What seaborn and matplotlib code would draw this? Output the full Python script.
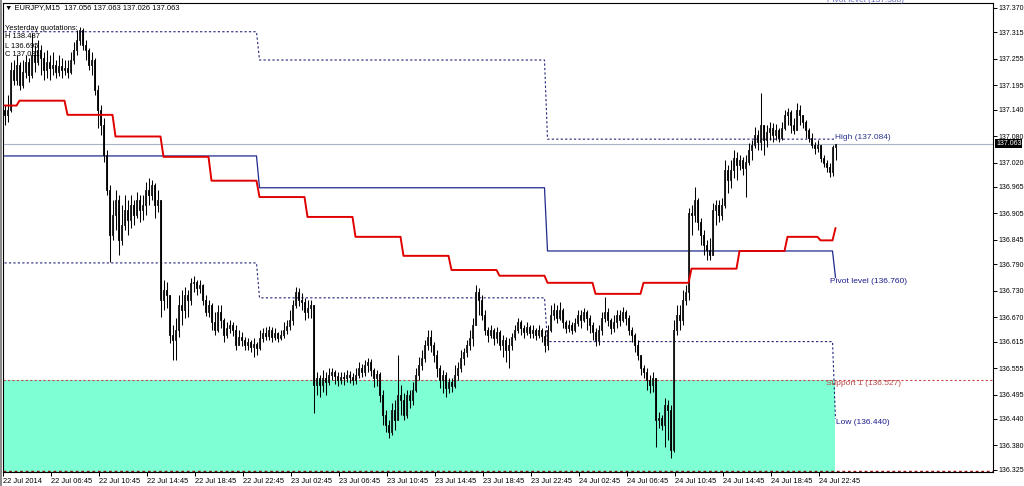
import numpy as np
import pandas as pd
import matplotlib
matplotlib.use('Agg')
import matplotlib.pyplot as plt
import matplotlib.patches as mpatches
import seaborn as sns

sns.set_style('white')
plt.rcParams['font.family'] = ['Liberation Sans', 'DejaVu Sans']

# EURJPY M15, 22 Jul 02:45 -> 25 Jul 00:00 (one value per bar)
first_open = 137.140
closes = [
    137.128, 137.139, 137.230, 137.207, 137.241, 137.196, 137.225, 137.248, 137.218, 137.264,
    137.248, 137.275, 137.257, 137.230, 137.248, 137.234, 137.241, 137.225, 137.239, 137.230,
    137.234, 137.225, 137.252, 137.275, 137.298, 137.320, 137.286, 137.275, 137.241, 137.252,
    137.184, 137.139, 137.105, 137.038, 136.958, 136.856, 136.902, 136.936, 136.845, 136.879,
    136.913, 136.890, 136.925, 136.902, 136.936, 136.913, 136.925, 136.958, 136.947, 136.970,
    136.925, 136.936, 136.710, 136.732, 136.721, 136.630, 136.619, 136.642, 136.698, 136.687,
    136.721, 136.710, 136.748, 136.750, 136.737, 136.743, 136.710, 136.683, 136.698, 136.660,
    136.642, 136.683, 136.664, 136.630, 136.646, 136.653, 136.642, 136.608, 136.626, 136.619,
    136.608, 136.615, 136.603, 136.610, 136.601, 136.624, 136.635, 136.628, 136.642, 136.626,
    136.635, 136.624, 136.630, 136.642, 136.651, 136.664, 136.698, 136.728, 136.710, 136.705,
    136.683, 136.692, 136.698, 136.517, 136.533, 136.517, 136.533, 136.524, 136.540, 136.547,
    136.538, 136.529, 136.535, 136.533, 136.540, 136.535, 136.529, 136.540, 136.556, 136.547,
    136.562, 136.569, 136.551, 136.533, 136.542, 136.495, 136.449, 136.427, 136.411, 136.461,
    136.438, 136.495, 136.483, 136.449, 136.495, 136.483, 136.506, 136.540, 136.562, 136.578,
    136.608, 136.626, 136.608, 136.585, 136.556, 136.529, 136.540, 136.511, 136.524, 136.515,
    136.540, 136.556, 136.578, 136.592, 136.608, 136.624, 136.653, 136.728, 136.710, 136.676,
    136.642, 136.630, 136.642, 136.624, 136.637, 136.608, 136.619, 136.596, 136.608, 136.626,
    136.642, 136.660, 136.646, 136.637, 136.649, 136.635, 136.642, 136.630, 136.642, 136.628,
    136.608, 136.642, 136.676, 136.687, 136.669, 136.687, 136.660, 136.646, 136.653, 136.642,
    136.658, 136.676, 136.664, 136.683, 136.669, 136.653, 136.637, 136.619, 136.642, 136.669,
    136.683, 136.664, 136.646, 136.660, 136.676, 136.664, 136.683, 136.669, 136.642, 136.630,
    136.608, 136.585, 136.556, 136.547, 136.529, 136.517, 136.533, 136.438, 136.443, 136.427,
    136.472, 136.461, 136.370, 136.642, 136.676, 136.664, 136.710, 136.728, 136.906, 136.902,
    136.936, 136.886, 136.856, 136.834, 136.823, 136.811, 136.913, 136.925, 136.902, 136.925,
    137.004, 136.981, 137.004, 137.031, 137.015, 137.026, 137.008, 137.022, 137.049, 137.060,
    137.083, 137.067, 137.105, 137.071, 137.089, 137.099, 137.083, 137.094, 137.076, 137.099,
    137.128, 137.135, 137.105, 137.094, 137.139, 137.128, 137.112, 137.094, 137.076, 137.060,
    137.053, 137.060, 137.031, 137.019, 137.010, 136.999, 137.056, 137.063,
]
highs = [
    137.151, 137.173, 137.248, 137.252, 137.264, 137.248, 137.252, 137.264, 137.257, 137.313,
    137.286, 137.298, 137.286, 137.270, 137.275, 137.264, 137.270, 137.252, 137.264, 137.257,
    137.252, 137.252, 137.270, 137.293, 137.320, 137.327, 137.325, 137.298, 137.279, 137.270,
    137.257, 137.196, 137.151, 137.121, 137.049, 136.970, 136.936, 136.958, 136.947, 136.925,
    136.947, 136.936, 136.947, 136.936, 136.954, 136.947, 136.947, 136.976, 136.985, 136.981,
    136.974, 136.958, 136.936, 136.755, 136.750, 136.721, 136.653, 136.669, 136.721, 136.732,
    136.739, 136.732, 136.759, 136.764, 136.755, 136.755, 136.746, 136.721, 136.710, 136.703,
    136.683, 136.698, 136.698, 136.669, 136.660, 136.664, 136.660, 136.653, 136.642, 136.637,
    136.626, 136.624, 136.619, 136.624, 136.615, 136.642, 136.646, 136.649, 136.651, 136.649,
    136.646, 136.637, 136.642, 136.660, 136.664, 136.687, 136.710, 136.739, 136.737, 136.725,
    136.714, 136.710, 136.710, 136.698, 136.547, 136.540, 136.551, 136.547, 136.556, 136.556,
    136.551, 136.547, 136.547, 136.547, 136.551, 136.549, 136.544, 136.556, 136.569, 136.565,
    136.574, 136.578, 136.576, 136.556, 136.551, 136.547, 136.506, 136.461, 136.438, 136.477,
    136.483, 136.585, 136.517, 136.499, 136.506, 136.506, 136.524, 136.556, 136.580, 136.596,
    136.619, 136.642, 136.642, 136.615, 136.596, 136.562, 136.551, 136.547, 136.533, 136.533,
    136.562, 136.569, 136.596, 136.601, 136.619, 136.642, 136.669, 136.743, 136.737, 136.721,
    136.687, 136.649, 136.653, 136.646, 136.649, 136.642, 136.630, 136.626, 136.624, 136.635,
    136.653, 136.669, 136.664, 136.653, 136.660, 136.653, 136.653, 136.646, 136.653, 136.646,
    136.642, 136.653, 136.698, 136.703, 136.698, 136.705, 136.692, 136.664, 136.664, 136.660,
    136.669, 136.687, 136.687, 136.692, 136.687, 136.676, 136.660, 136.646, 136.653, 136.683,
    136.716, 136.692, 136.669, 136.676, 136.687, 136.687, 136.694, 136.687, 136.676, 136.649,
    136.635, 136.619, 136.585, 136.562, 136.556, 136.540, 136.547, 136.533, 136.456, 136.449,
    136.488, 136.483, 136.472, 136.664, 136.698, 136.698, 136.732, 136.743, 136.918, 136.925,
    136.965, 136.940, 136.895, 136.868, 136.845, 136.850, 136.929, 136.936, 136.936, 136.940,
    137.026, 137.015, 137.026, 137.049, 137.044, 137.038, 137.033, 137.038, 137.065, 137.071,
    137.101, 137.094, 137.178, 137.105, 137.105, 137.112, 137.110, 137.108, 137.099, 137.112,
    137.139, 137.144, 137.139, 137.121, 137.155, 137.151, 137.128, 137.117, 137.099, 137.087,
    137.067, 137.071, 137.060, 137.038, 137.026, 137.019, 137.060, 137.063,
]
lows = [
    137.105, 137.112, 137.135, 137.196, 137.196, 137.184, 137.189, 137.212, 137.203, 137.212,
    137.225, 137.241, 137.218, 137.207, 137.212, 137.207, 137.218, 137.212, 137.216, 137.212,
    137.218, 137.212, 137.221, 137.243, 137.264, 137.286, 137.275, 137.252, 137.230, 137.218,
    137.173, 137.099, 137.083, 137.022, 136.947, 136.795, 136.845, 136.868, 136.811, 136.834,
    136.868, 136.856, 136.872, 136.879, 136.895, 136.886, 136.890, 136.902, 136.925, 136.936,
    136.895, 136.909, 136.671, 136.687, 136.692, 136.612, 136.574, 136.574, 136.626, 136.653,
    136.669, 136.671, 136.698, 136.728, 136.721, 136.725, 136.698, 136.674, 136.671, 136.642,
    136.630, 136.637, 136.646, 136.615, 136.624, 136.635, 136.628, 136.596, 136.608, 136.605,
    136.596, 136.596, 136.592, 136.580, 136.585, 136.596, 136.615, 136.619, 136.619, 136.615,
    136.619, 136.615, 136.619, 136.624, 136.633, 136.642, 136.653, 136.692, 136.696, 136.687,
    136.664, 136.669, 136.669, 136.454, 136.495, 136.490, 136.501, 136.495, 136.517, 136.529,
    136.520, 136.515, 136.520, 136.517, 136.524, 136.522, 136.517, 136.520, 136.533, 136.535,
    136.538, 136.547, 136.538, 136.513, 136.515, 136.479, 136.427, 136.411, 136.397, 136.404,
    136.415, 136.438, 136.449, 136.438, 136.443, 136.465, 136.472, 136.501, 136.529, 136.551,
    136.569, 136.596, 136.592, 136.569, 136.535, 136.511, 136.499, 136.490, 136.499, 136.501,
    136.511, 136.529, 136.547, 136.562, 136.580, 136.596, 136.605, 136.653, 136.676, 136.664,
    136.630, 136.615, 136.624, 136.608, 136.612, 136.596, 136.580, 136.569, 136.556, 136.596,
    136.619, 136.635, 136.630, 136.624, 136.630, 136.624, 136.624, 136.619, 136.624, 136.615,
    136.592, 136.596, 136.637, 136.664, 136.658, 136.664, 136.646, 136.635, 136.637, 136.633,
    136.637, 136.651, 136.646, 136.660, 136.642, 136.635, 136.619, 136.605, 136.608, 136.630,
    136.660, 136.651, 136.633, 136.637, 136.646, 136.651, 136.660, 136.653, 136.630, 136.615,
    136.592, 136.574, 136.540, 136.533, 136.506, 136.499, 136.501, 136.377, 136.420, 136.415,
    136.377, 136.393, 136.352, 136.365, 136.630, 136.642, 136.653, 136.698, 136.710, 136.856,
    136.886, 136.868, 136.834, 136.811, 136.800, 136.800, 136.811, 136.879, 136.886, 136.890,
    136.918, 136.952, 136.963, 136.985, 136.981, 137.004, 136.992, 136.943, 137.015, 137.026,
    137.053, 137.049, 137.049, 137.038, 137.056, 137.071, 137.067, 137.071, 137.067, 137.071,
    137.094, 137.105, 137.087, 137.085, 137.094, 137.105, 137.099, 137.076, 137.067, 137.053,
    137.040, 137.044, 137.022, 137.010, 136.999, 136.988, 136.990, 137.026,
]

# 4-hour step line (red)
red_starts = [0, 5, 21, 37, 53, 69, 85, 101, 117, 133, 149, 165, 181, 197, 213, 229, 245, 261, 272, 277]
red_levels = [137.149, 137.160, 137.128, 137.079, 137.033, 136.979, 136.942, 136.897, 136.852, 136.809,
              136.777, 136.764, 136.748, 136.723, 136.748, 136.780, 136.820, 136.852, 136.844, 136.872]

# daily levels
day_starts = [0, 85, 181, 277]
pivot_levels = [137.035, 136.963, 136.820, 136.760]
day_high = [137.316, 137.252, 137.073, 137.073]
day_low = [136.793, 136.714, 136.615, 136.440]
support1 = 136.527
support2 = 136.322
last_price = 137.063

xtick_labels = ['22 Jul 2014', '22 Jul 06:45', '22 Jul 10:45', '22 Jul 14:45', '22 Jul 18:45',
                '22 Jul 22:45', '23 Jul 02:45', '23 Jul 06:45', '23 Jul 10:45', '23 Jul 14:45',
                '23 Jul 18:45', '23 Jul 22:45', '24 Jul 02:45', '24 Jul 06:45', '24 Jul 10:45',
                '24 Jul 14:45', '24 Jul 18:45', '24 Jul 22:45']
ytick_labels = ['137.370', '137.315', '137.255', '137.195', '137.140', '137.080', '137.020',
                '136.965', '136.905', '136.845', '136.790', '136.730', '136.670', '136.615',
                '136.555', '136.495', '136.440', '136.380', '136.325']

df = pd.DataFrame({'high': highs, 'low': lows, 'close': closes})
df['open'] = [first_open] + closes[:-1]
df['bar'] = np.arange(len(df))
n = len(df)

red_len = np.diff(red_starts + [n])
df['red'] = np.repeat(red_levels, red_len)


def day_steps(levels):
    xs, ys = [], []
    ends = day_starts[1:] + [n]
    for s, e, v in zip(day_starts, ends, levels):
        xs += [s, e - 1]
        ys += [v, v]
    return xs, ys


W, H = 1024, 486
fig = plt.figure(figsize=(W / 100, H / 100), dpi=100, facecolor='white')
fig.patches.append(mpatches.Rectangle((0, 0), 2 / W, 1, transform=fig.transFigure,
                                      color='#8C8C8C', lw=0))
ax = fig.add_axes([3 / W, 14 / H, 990 / W, 469 / H])
ax.set_facecolor('white')
ylo, yhi = 136.320, 137.381
ax.set_xlim(-0.5, 329.5)
ax.set_ylim(ylo, yhi)

# support zone
ax.fill_between([-0.5, 276.8], ylo, support1, color='#7FFFD4', lw=0, zorder=1)
ax.axhline(support1, color='#C84848', lw=0.8, ls=(0, (2, 2)), zorder=2)
ax.axhline(support2, color='#8B1010', lw=1.0, ls=(0, (2, 2)), zorder=2)
ax.axhline(last_price, color='#A8B4C4', lw=0.8, zorder=2)

# daily high / low (dotted) and pivot
for lev in (day_high, day_low):
    xs, ys = day_steps(lev)
    ax.plot(xs, ys, color='#22227A', lw=0.8, ls=(0, (2, 2)), zorder=2)
xs, ys = day_steps(pivot_levels)
sns.lineplot(x=xs, y=ys, ax=ax, color='#1F2A8C', lw=0.9, sort=False, estimator=None, zorder=2)

# red step line
sns.lineplot(x=df['bar'], y=df['red'], ax=ax, color='#E00000', lw=1.4, sort=False,
             estimator=None, zorder=5)

# candles
up = df['close'] >= df['open']
ax.vlines(df['bar'], df['low'], df['high'], color='black', lw=0.75, zorder=3)
ax.bar(df.loc[up, 'bar'], (df['close'] - df['open'])[up], bottom=df['open'][up], width=0.62,
       color='white', edgecolor='black', lw=0.6, zorder=4)
ax.bar(df.loc[~up, 'bar'], (df['open'] - df['close'])[~up], bottom=df['close'][~up], width=0.62,
       color='black', edgecolor='black', lw=0.6, zorder=4)

fs = 5.4
# level labels
ax.text(276.8, 137.084, 'High (137.084)', color='#2A3590', fontsize=fs + 0.6, va='top', zorder=6)
ax.text(275.2, 136.760, 'Pivot level (136.760)', color='#1C1C8C', fontsize=fs + 0.6, va='top', zorder=6)
ax.text(273.8, support1, 'Support 1 (136.527)', color='#B84848', fontsize=fs + 0.6, va='top', zorder=6)
ax.text(277.2, 136.440, 'Low (136.440)', color='#1C1C8C', fontsize=fs + 0.6, va='top', zorder=6)
ax.text(274.2, 137.3825, 'Pivot level (137.388)', color='#6A6AC0', fontsize=fs + 0.6, va='baseline',
        clip_on=False, zorder=6)

# axes styling
for sp in ax.spines.values():
    sp.set_color('black')
    sp.set_linewidth(0.8)
ax.yaxis.tick_right()
ax.set_yticks([float(t) for t in ytick_labels])
ax.set_yticklabels(ytick_labels)
ax.set_xticks(np.arange(len(xtick_labels)) * 16 - 0.5)
ax.set_xticklabels(xtick_labels, ha='left')
ax.tick_params(axis='y', which='major', length=3, width=0.7, pad=1.0, labelsize=5.0, colors='black',
               right=True, left=False)
ax.tick_params(axis='x', which='major', length=3, width=0.7, pad=1.5, labelsize=fs, colors='black',
               bottom=True)
ax.set_xlabel('')
ax.set_ylabel('')

ax.text(1.003, last_price, f'{last_price:.3f}', transform=ax.get_yaxis_transform(), color='white',
        fontsize=5.0, va='center', ha='left',
        bbox=dict(facecolor='black', edgecolor='none', pad=0.5), clip_on=False, zorder=7)

# header / yesterday quotations
fig.text(5 / W, 1 - 8 / H, '\u25bc EURJPY,M15  137.056 137.063 137.026 137.063', fontsize=fs,
         va='center', ha='left', color='black')
for i, s in enumerate(['Yesterday quotations:', 'H 138.487', 'L 136.695', 'C 137.031']):
    fig.text(5 / W, 1 - (28 + 9 * i) / H, s, fontsize=fs, va='center', ha='left', color='black')

fig.savefig('out.png', dpi=100, facecolor='white')
